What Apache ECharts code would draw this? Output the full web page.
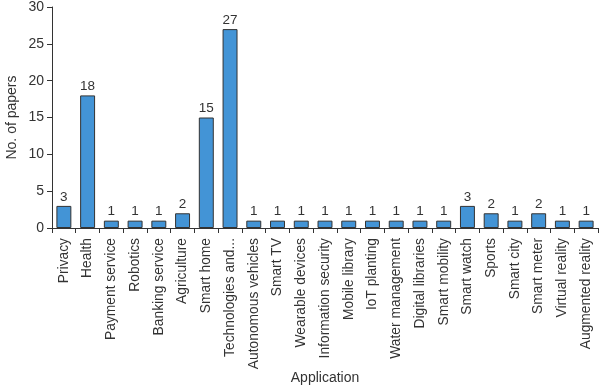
<!DOCTYPE html>
<html><head><meta charset="utf-8">
<script src="https://cdn.jsdelivr.net/npm/echarts@6/dist/echarts.min.js"></script>
<style>html,body{margin:0;padding:0;background:#fff}#c{width:600px;height:385px}</style>
</head><body><div id="c"></div>
<script>
const categories = ["Privacy","Health","Payment service","Robotics","Banking service","Agriculture","Smart home","Technologies and...","Autonomous vehicles","Smart TV","Wearable devices","Information security","Mobile library","IoT planting","Water management","Digital libraries","Smart mobility","Smart watch","Sports","Smart city","Smart meter","Virtual reality","Augmented reality"];
const values = [3,18,1,1,1,2,15,27,1,1,1,1,1,1,1,1,1,3,2,1,2,1,1];
const yTicks = [0,5,10,15,20,25,30];
const font = "Liberation Sans";
const chart = echarts.init(document.getElementById('c'));
chart.setOption({
  animation:false,
  grid:{left:52,top:7,right:2,bottom:157,containLabel:false,outerBoundsMode:'none'},
  xAxis:{type:'category',data:categories,name:'Application',nameLocation:'middle',nameGap:143,nameMoveOverlap:false,
    nameTextStyle:{fontFamily:font,fontSize:14,color:'#333'},
    axisLine:{lineStyle:{color:'#333'}},
    axisTick:{show:true,alignWithLabel:false,length:5,lineStyle:{color:'#333'}},
    axisLabel:{rotate:90,interval:0,fontFamily:font,fontSize:13.8,color:'#333',margin:10}},
  yAxis:{type:'value',min:0,max:30,interval:5,name:'No. of papers',nameLocation:'middle',nameGap:33,nameMoveOverlap:false,
    nameTextStyle:{fontFamily:font,fontSize:14,color:'#333'},
    axisLine:{show:true,lineStyle:{color:'#333'}},
    axisTick:{show:true,length:5,lineStyle:{color:'#333'}},
    splitLine:{show:false},
    axisLabel:{fontFamily:font,fontSize:14,color:'#333',margin:8,formatter:v=>yTicks.includes(v)?String(v):''}},
  series:[{type:'bar',data:values,barWidth:'63%',
    itemStyle:{color:'#4394d6',borderColor:'#333',borderWidth:1},
    label:{show:true,position:'top',fontFamily:font,fontSize:13.5,color:'#333',distance:2}}]
});
</script></body></html>
